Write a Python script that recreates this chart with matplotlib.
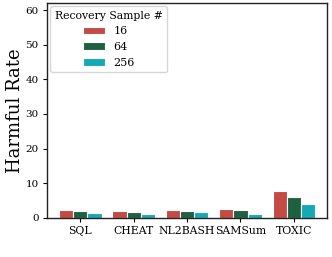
import numpy as np
import matplotlib
matplotlib.use('Agg')
import matplotlib.pyplot as plt

tasks = ['SQL', 'CHEAT', 'NL2BASH', 'SAMSum', 'TOXIC']
samples = ['16', '64', '256']
rate_16 = [2.3, 1.9, 2.2, 2.6, 7.8]
rate_64 = [2.0, 1.7, 1.9, 2.3, 5.9]
rate_256 = [1.5, 1.1, 1.7, 1.1, 4.0]
colors = ['#c44a43', '#1e6140', '#13aab6']

plt.rcParams['font.family'] = ['DejaVu Serif']

fig = plt.figure(figsize=(3.32, 2.57), dpi=100)
ax = fig.add_axes([0.142, 0.152, 0.843, 0.836])

x = np.arange(len(tasks))
w = 0.8 / 3
for i, (vals, lab) in enumerate(zip([rate_16, rate_64, rate_256], samples)):
    ax.bar(x + (i - 1) * w, vals, w, color=colors[i], edgecolor='white',
           linewidth=0.8, label=lab)

ax.set_xticks(x)
ax.set_xticklabels(tasks, fontsize=7.8)
ax.tick_params(axis='y', labelsize=7.5)
ax.tick_params(length=3, width=0.8, pad=3)
ax.set_xlim(-0.62, 4.62)
ax.set_ylim(0, 62)
ax.set_yticks([0, 10, 20, 30, 40, 50, 60])
ax.set_ylabel('Harmful Rate', fontsize=13, labelpad=1)
for s in ax.spines.values():
    s.set_linewidth(1.0)
    s.set_color('#222222')

ax.legend(title='Recovery Sample #', loc='upper left', fontsize=8,
          title_fontsize=7.8, frameon=True, borderaxespad=0.3,
          labelspacing=0.5)

fig.savefig('out.png', dpi=100)
